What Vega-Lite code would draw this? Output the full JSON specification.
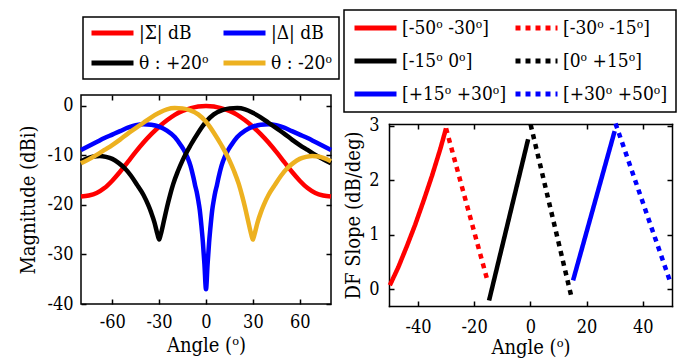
{
  "$schema": "https://vega.github.io/schema/vega-lite/v6.json",
  "padding": {"left": 18, "top": 9, "right": 5, "bottom": 2},
  "background": "white",
  "spacing": 2,
  "resolve": {"scale": {"color": "independent", "strokeDash": "independent"}, "legend": {"color": "independent", "strokeDash": "independent"}},
  "config": {
    "font": "DejaVu Serif Condensed, DejaVu Serif, serif",
    "view": {"stroke": "black", "strokeWidth": 1.5},
    "axis": {"domain": false, "grid": false, "tickColor": "black", "tickWidth": 1.5, "tickSize": -5, "labelFont": "DejaVu Serif Condensed, DejaVu Serif, serif", "labelFontSize": 18, "labelColor": "black", "titleFont": "DejaVu Serif Condensed, DejaVu Serif, serif", "titleFontSize": 20, "titleFontWeight": "normal", "titleColor": "black", "labelPadding": 13, "titlePadding": 4},
    "legend": {"orient": "none", "columns": 2, "direction": "horizontal", "title": null, "symbolType": "stroke", "symbolSize": 1764, "symbolStrokeWidth": 5, "clipHeight": 20, "labelFont": "DejaVu Serif Condensed, DejaVu Serif, serif", "labelFontSize": 19, "labelColor": "black", "labelOffset": 3, "labelLimit": 400, "columnPadding": 12, "strokeColor": "black", "strokeWidth": 1.5, "fillColor": "white"}
  },
  "hconcat": [
    {
      "width": 250,
      "height": 209,
      "data": {"values": [
        {"series": "|Σ| dB", "angle": -80, "mag": -18.3},
        {"series": "|Σ| dB", "angle": -75, "mag": -18.1},
        {"series": "|Σ| dB", "angle": -70, "mag": -17.6},
        {"series": "|Σ| dB", "angle": -65, "mag": -16.6},
        {"series": "|Σ| dB", "angle": -60, "mag": -15.1},
        {"series": "|Σ| dB", "angle": -55, "mag": -13.3},
        {"series": "|Σ| dB", "angle": -50, "mag": -11.3},
        {"series": "|Σ| dB", "angle": -45, "mag": -9.3},
        {"series": "|Σ| dB", "angle": -40, "mag": -7.4},
        {"series": "|Σ| dB", "angle": -35, "mag": -5.7},
        {"series": "|Σ| dB", "angle": -30, "mag": -4.2},
        {"series": "|Σ| dB", "angle": -25, "mag": -2.9},
        {"series": "|Σ| dB", "angle": -20, "mag": -1.8},
        {"series": "|Σ| dB", "angle": -15, "mag": -1.0},
        {"series": "|Σ| dB", "angle": -10, "mag": -0.5},
        {"series": "|Σ| dB", "angle": -5, "mag": -0.12},
        {"series": "|Σ| dB", "angle": 0, "mag": 0},
        {"series": "|Σ| dB", "angle": 5, "mag": -0.12},
        {"series": "|Σ| dB", "angle": 10, "mag": -0.5},
        {"series": "|Σ| dB", "angle": 15, "mag": -1.0},
        {"series": "|Σ| dB", "angle": 20, "mag": -1.8},
        {"series": "|Σ| dB", "angle": 25, "mag": -2.9},
        {"series": "|Σ| dB", "angle": 30, "mag": -4.2},
        {"series": "|Σ| dB", "angle": 35, "mag": -5.7},
        {"series": "|Σ| dB", "angle": 40, "mag": -7.4},
        {"series": "|Σ| dB", "angle": 45, "mag": -9.3},
        {"series": "|Σ| dB", "angle": 50, "mag": -11.3},
        {"series": "|Σ| dB", "angle": 55, "mag": -13.3},
        {"series": "|Σ| dB", "angle": 60, "mag": -15.1},
        {"series": "|Σ| dB", "angle": 65, "mag": -16.6},
        {"series": "|Σ| dB", "angle": 70, "mag": -17.6},
        {"series": "|Σ| dB", "angle": 75, "mag": -18.1},
        {"series": "|Σ| dB", "angle": 80, "mag": -18.3},
        {"series": "|Δ| dB", "angle": -80, "mag": -8.9},
        {"series": "|Δ| dB", "angle": -75, "mag": -8.1},
        {"series": "|Δ| dB", "angle": -70, "mag": -7.3},
        {"series": "|Δ| dB", "angle": -65, "mag": -6.5},
        {"series": "|Δ| dB", "angle": -60, "mag": -5.8},
        {"series": "|Δ| dB", "angle": -55, "mag": -5.1},
        {"series": "|Δ| dB", "angle": -50, "mag": -4.4},
        {"series": "|Δ| dB", "angle": -45, "mag": -3.9},
        {"series": "|Δ| dB", "angle": -40, "mag": -3.7},
        {"series": "|Δ| dB", "angle": -35, "mag": -3.8},
        {"series": "|Δ| dB", "angle": -30, "mag": -4.2},
        {"series": "|Δ| dB", "angle": -25, "mag": -5.0},
        {"series": "|Δ| dB", "angle": -20, "mag": -6.3},
        {"series": "|Δ| dB", "angle": -16, "mag": -8.0},
        {"series": "|Δ| dB", "angle": -14, "mag": -9.0},
        {"series": "|Δ| dB", "angle": -12, "mag": -10.3},
        {"series": "|Δ| dB", "angle": -10, "mag": -12.0},
        {"series": "|Δ| dB", "angle": -8, "mag": -14.5},
        {"series": "|Δ| dB", "angle": -7, "mag": -16.0},
        {"series": "|Δ| dB", "angle": -6, "mag": -17.3},
        {"series": "|Δ| dB", "angle": -5, "mag": -19.0},
        {"series": "|Δ| dB", "angle": -4, "mag": -21.0},
        {"series": "|Δ| dB", "angle": -3, "mag": -24.0},
        {"series": "|Δ| dB", "angle": -2, "mag": -27.5},
        {"series": "|Δ| dB", "angle": -1, "mag": -32.0},
        {"series": "|Δ| dB", "angle": 0, "mag": -37.0},
        {"series": "|Δ| dB", "angle": 1, "mag": -32.0},
        {"series": "|Δ| dB", "angle": 2, "mag": -27.5},
        {"series": "|Δ| dB", "angle": 3, "mag": -24.0},
        {"series": "|Δ| dB", "angle": 4, "mag": -21.0},
        {"series": "|Δ| dB", "angle": 5, "mag": -19.0},
        {"series": "|Δ| dB", "angle": 6, "mag": -17.3},
        {"series": "|Δ| dB", "angle": 7, "mag": -16.0},
        {"series": "|Δ| dB", "angle": 8, "mag": -14.5},
        {"series": "|Δ| dB", "angle": 10, "mag": -12.0},
        {"series": "|Δ| dB", "angle": 12, "mag": -10.3},
        {"series": "|Δ| dB", "angle": 14, "mag": -9.0},
        {"series": "|Δ| dB", "angle": 16, "mag": -8.0},
        {"series": "|Δ| dB", "angle": 20, "mag": -6.3},
        {"series": "|Δ| dB", "angle": 25, "mag": -5.0},
        {"series": "|Δ| dB", "angle": 30, "mag": -4.2},
        {"series": "|Δ| dB", "angle": 35, "mag": -3.8},
        {"series": "|Δ| dB", "angle": 40, "mag": -3.7},
        {"series": "|Δ| dB", "angle": 45, "mag": -3.9},
        {"series": "|Δ| dB", "angle": 50, "mag": -4.4},
        {"series": "|Δ| dB", "angle": 55, "mag": -5.1},
        {"series": "|Δ| dB", "angle": 60, "mag": -5.8},
        {"series": "|Δ| dB", "angle": 65, "mag": -6.5},
        {"series": "|Δ| dB", "angle": 70, "mag": -7.3},
        {"series": "|Δ| dB", "angle": 75, "mag": -8.1},
        {"series": "|Δ| dB", "angle": 80, "mag": -8.9},
        {"series": "θ : +20ᵒ", "angle": -80, "mag": -11.2},
        {"series": "θ : +20ᵒ", "angle": -76, "mag": -10.6},
        {"series": "θ : +20ᵒ", "angle": -72, "mag": -10.2},
        {"series": "θ : +20ᵒ", "angle": -68, "mag": -10.1},
        {"series": "θ : +20ᵒ", "angle": -64, "mag": -10.3},
        {"series": "θ : +20ᵒ", "angle": -60, "mag": -10.7},
        {"series": "θ : +20ᵒ", "angle": -56, "mag": -11.5},
        {"series": "θ : +20ᵒ", "angle": -52, "mag": -12.6},
        {"series": "θ : +20ᵒ", "angle": -48, "mag": -14.1},
        {"series": "θ : +20ᵒ", "angle": -44, "mag": -16.0},
        {"series": "θ : +20ᵒ", "angle": -40, "mag": -18.0},
        {"series": "θ : +20ᵒ", "angle": -37, "mag": -20.0},
        {"series": "θ : +20ᵒ", "angle": -35, "mag": -21.6},
        {"series": "θ : +20ᵒ", "angle": -33, "mag": -23.5},
        {"series": "θ : +20ᵒ", "angle": -31, "mag": -26.0},
        {"series": "θ : +20ᵒ", "angle": -30, "mag": -27.0},
        {"series": "θ : +20ᵒ", "angle": -29, "mag": -26.0},
        {"series": "θ : +20ᵒ", "angle": -27, "mag": -23.3},
        {"series": "θ : +20ᵒ", "angle": -25, "mag": -20.5},
        {"series": "θ : +20ᵒ", "angle": -23, "mag": -18.0},
        {"series": "θ : +20ᵒ", "angle": -21, "mag": -15.8},
        {"series": "θ : +20ᵒ", "angle": -18, "mag": -13.2},
        {"series": "θ : +20ᵒ", "angle": -15, "mag": -11.0},
        {"series": "θ : +20ᵒ", "angle": -10, "mag": -8.0},
        {"series": "θ : +20ᵒ", "angle": -5, "mag": -5.4},
        {"series": "θ : +20ᵒ", "angle": 0, "mag": -3.2},
        {"series": "θ : +20ᵒ", "angle": 5, "mag": -1.7},
        {"series": "θ : +20ᵒ", "angle": 10, "mag": -0.9},
        {"series": "θ : +20ᵒ", "angle": 15, "mag": -0.5},
        {"series": "θ : +20ᵒ", "angle": 20, "mag": -0.45},
        {"series": "θ : +20ᵒ", "angle": 25, "mag": -0.7},
        {"series": "θ : +20ᵒ", "angle": 30, "mag": -1.4},
        {"series": "θ : +20ᵒ", "angle": 35, "mag": -2.3},
        {"series": "θ : +20ᵒ", "angle": 40, "mag": -3.4},
        {"series": "θ : +20ᵒ", "angle": 45, "mag": -4.5},
        {"series": "θ : +20ᵒ", "angle": 50, "mag": -5.6},
        {"series": "θ : +20ᵒ", "angle": 55, "mag": -6.8},
        {"series": "θ : +20ᵒ", "angle": 60, "mag": -7.9},
        {"series": "θ : +20ᵒ", "angle": 65, "mag": -8.9},
        {"series": "θ : +20ᵒ", "angle": 70, "mag": -9.9},
        {"series": "θ : +20ᵒ", "angle": 75, "mag": -10.8},
        {"series": "θ : +20ᵒ", "angle": 80, "mag": -11.6},
        {"series": "θ : -20ᵒ", "angle": -80, "mag": -11.6},
        {"series": "θ : -20ᵒ", "angle": -75, "mag": -10.8},
        {"series": "θ : -20ᵒ", "angle": -70, "mag": -9.9},
        {"series": "θ : -20ᵒ", "angle": -65, "mag": -8.9},
        {"series": "θ : -20ᵒ", "angle": -60, "mag": -7.9},
        {"series": "θ : -20ᵒ", "angle": -55, "mag": -6.8},
        {"series": "θ : -20ᵒ", "angle": -50, "mag": -5.6},
        {"series": "θ : -20ᵒ", "angle": -45, "mag": -4.5},
        {"series": "θ : -20ᵒ", "angle": -40, "mag": -3.4},
        {"series": "θ : -20ᵒ", "angle": -35, "mag": -2.3},
        {"series": "θ : -20ᵒ", "angle": -30, "mag": -1.4},
        {"series": "θ : -20ᵒ", "angle": -25, "mag": -0.7},
        {"series": "θ : -20ᵒ", "angle": -20, "mag": -0.45},
        {"series": "θ : -20ᵒ", "angle": -15, "mag": -0.5},
        {"series": "θ : -20ᵒ", "angle": -10, "mag": -0.9},
        {"series": "θ : -20ᵒ", "angle": -5, "mag": -1.7},
        {"series": "θ : -20ᵒ", "angle": 0, "mag": -3.2},
        {"series": "θ : -20ᵒ", "angle": 5, "mag": -5.4},
        {"series": "θ : -20ᵒ", "angle": 10, "mag": -8.0},
        {"series": "θ : -20ᵒ", "angle": 15, "mag": -11.0},
        {"series": "θ : -20ᵒ", "angle": 18, "mag": -13.2},
        {"series": "θ : -20ᵒ", "angle": 21, "mag": -15.8},
        {"series": "θ : -20ᵒ", "angle": 23, "mag": -18.0},
        {"series": "θ : -20ᵒ", "angle": 25, "mag": -20.5},
        {"series": "θ : -20ᵒ", "angle": 27, "mag": -23.3},
        {"series": "θ : -20ᵒ", "angle": 29, "mag": -26.0},
        {"series": "θ : -20ᵒ", "angle": 30, "mag": -27.0},
        {"series": "θ : -20ᵒ", "angle": 31, "mag": -26.0},
        {"series": "θ : -20ᵒ", "angle": 33, "mag": -23.5},
        {"series": "θ : -20ᵒ", "angle": 35, "mag": -21.6},
        {"series": "θ : -20ᵒ", "angle": 37, "mag": -20.0},
        {"series": "θ : -20ᵒ", "angle": 40, "mag": -18.0},
        {"series": "θ : -20ᵒ", "angle": 44, "mag": -16.0},
        {"series": "θ : -20ᵒ", "angle": 48, "mag": -14.1},
        {"series": "θ : -20ᵒ", "angle": 52, "mag": -12.6},
        {"series": "θ : -20ᵒ", "angle": 56, "mag": -11.5},
        {"series": "θ : -20ᵒ", "angle": 60, "mag": -10.7},
        {"series": "θ : -20ᵒ", "angle": 64, "mag": -10.3},
        {"series": "θ : -20ᵒ", "angle": 68, "mag": -10.1},
        {"series": "θ : -20ᵒ", "angle": 72, "mag": -10.2},
        {"series": "θ : -20ᵒ", "angle": 76, "mag": -10.6},
        {"series": "θ : -20ᵒ", "angle": 80, "mag": -11.2}
      ]},
      "layer": [
        {
          "mark": {"type": "line", "strokeWidth": 4.5, "interpolate": "monotone"},
          "encoding": {
            "x": {"field": "angle", "type": "quantitative", "scale": {"domain": [-80, 80], "nice": false, "zero": false},
                  "axis": {"values": [-60, -30, 0, 30, 60], "title": "Angle (ᵒ)", "labelPadding": 14, "labelExpr": "replace(datum.label, '\u2212', '-')"}},
            "y": {"field": "mag", "type": "quantitative", "scale": {"domain": [-40, 2.2], "nice": false, "zero": false},
                  "axis": {"values": [0, -10, -20, -30, -40], "title": "Magnitude (dBi)", "titlePadding": 8, "labelExpr": "replace(datum.label, '\u2212', '-')"}},
            "color": {"field": "series", "type": "nominal",
                      "scale": {"domain": ["|Σ| dB", "|Δ| dB", "θ : +20ᵒ", "θ : -20ᵒ"], "range": ["#ff0000", "#0000ff", "#000000", "#edb120"]},
                      "legend": {"legendX": 2, "legendY": -78, "rowPadding": 10, "padding": 6}}
          }
        },
        {
          "mark": {"type": "line", "opacity": 0},
          "encoding": {
            "x": {"field": "angle", "type": "quantitative", "axis": {"orient": "top", "values": [-60, -30, 0, 30, 60], "labels": false, "title": null}},
            "y": {"field": "mag", "type": "quantitative", "axis": {"orient": "right", "values": [0, -10, -20, -30, -40], "labels": false, "title": null}}
          }
        }
      ],
      "resolve": {"axis": {"x": "independent", "y": "independent"}}
    },
    {
      "width": 283,
      "height": 211,
      "view": {"stroke": null},
      "data": {"values": [
        {"seg": "[-50ᵒ -30ᵒ]", "angle": -50, "slope": 0.07},
        {"seg": "[-50ᵒ -30ᵒ]", "angle": -47, "slope": 0.4},
        {"seg": "[-50ᵒ -30ᵒ]", "angle": -44, "slope": 0.78},
        {"seg": "[-50ᵒ -30ᵒ]", "angle": -41, "slope": 1.18},
        {"seg": "[-50ᵒ -30ᵒ]", "angle": -38, "slope": 1.62},
        {"seg": "[-50ᵒ -30ᵒ]", "angle": -35, "slope": 2.08},
        {"seg": "[-50ᵒ -30ᵒ]", "angle": -32, "slope": 2.58},
        {"seg": "[-50ᵒ -30ᵒ]", "angle": -30, "slope": 2.95},
        {"seg": "[-30ᵒ -15ᵒ]", "angle": -30, "slope": 2.95},
        {"seg": "[-30ᵒ -15ᵒ]", "angle": -15.5, "slope": 0.2},
        {"seg": "[-15ᵒ 0ᵒ]", "angle": -14.7, "slope": -0.21},
        {"seg": "[-15ᵒ 0ᵒ]", "angle": -0.8, "slope": 2.75},
        {"seg": "[0ᵒ +15ᵒ]", "angle": 0.1, "slope": 3.02},
        {"seg": "[0ᵒ +15ᵒ]", "angle": 14.6, "slope": -0.14},
        {"seg": "[+15ᵒ +30ᵒ]", "angle": 15.2, "slope": 0.16},
        {"seg": "[+15ᵒ +30ᵒ]", "angle": 30, "slope": 2.9},
        {"seg": "[+30ᵒ +50ᵒ]", "angle": 30.3, "slope": 3.04},
        {"seg": "[+30ᵒ +50ᵒ]", "angle": 50, "slope": 0.1}
      ]},
      "layer": [
        {
          "mark": {"type": "line", "strokeWidth": 4.5},
          "encoding": {
            "x": {"field": "angle", "type": "quantitative", "scale": {"domain": [-50.3, 50.4], "nice": false, "zero": false},
                  "axis": {"values": [-40, -20, 0, 20, 40], "title": "Angle (ᵒ)", "labelPadding": 17, "titlePadding": 1, "domain": true, "domainColor": "black", "domainWidth": 1.5, "domainCap": "square", "labelExpr": "replace(datum.label, '\u2212', '-')"}},
            "y": {"field": "slope", "type": "quantitative", "scale": {"domain": [-0.31, 3.03], "range": [211, 29], "nice": false, "zero": false},
                  "axis": {"values": [0, 1, 2, 3], "title": "DF Slope (dB/deg)", "labelPadding": 15, "titlePadding": 5, "domain": true, "domainColor": "black", "domainWidth": 1.5, "domainCap": "square"}},
            "color": {"field": "seg", "type": "nominal",
                      "scale": {"domain": ["[-50ᵒ -30ᵒ]", "[-30ᵒ -15ᵒ]", "[-15ᵒ 0ᵒ]", "[0ᵒ +15ᵒ]", "[+15ᵒ +30ᵒ]", "[+30ᵒ +50ᵒ]"], "range": ["#ff0000", "#ff0000", "#000000", "#000000", "#0000ff", "#0000ff"]},
                      "legend": {"legendX": -45, "legendY": -85, "rowPadding": 13, "padding": 8, "columnPadding": 6}},
            "strokeDash": {"field": "seg", "type": "nominal",
                      "scale": {"domain": ["[-50ᵒ -30ᵒ]", "[-30ᵒ -15ᵒ]", "[-15ᵒ 0ᵒ]", "[0ᵒ +15ᵒ]", "[+15ᵒ +30ᵒ]", "[+30ᵒ +50ᵒ]"], "range": [[1, 0], [5, 5], [1, 0], [5, 5], [1, 0], [5, 5]]},
                      "legend": {"legendX": -45, "legendY": -85, "rowPadding": 13, "padding": 8, "columnPadding": 6}}
          }
        },
        {
          "mark": {"type": "line", "opacity": 0},
          "encoding": {
            "x": {"field": "angle", "type": "quantitative", "axis": {"orient": "top", "offset": -29, "values": [-40, -20, 0, 20, 40], "labels": false, "title": null, "domain": true, "domainColor": "black", "domainWidth": 1.5, "domainCap": "square"}},
            "y": {"field": "slope", "type": "quantitative", "axis": {"orient": "right", "values": [0, 1, 2, 3], "labels": false, "title": null, "domain": true, "domainColor": "black", "domainWidth": 1.5, "domainCap": "square"}}
          }
        }
      ],
      "resolve": {"axis": {"x": "independent", "y": "independent"}}
    }
  ]
}
